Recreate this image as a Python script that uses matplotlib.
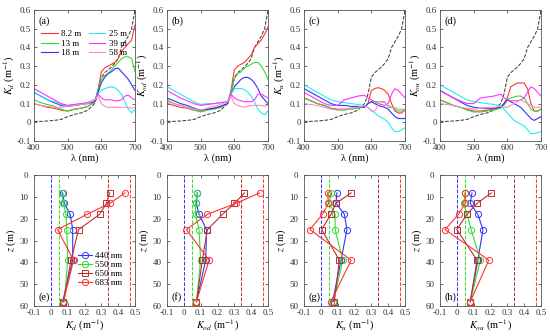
import matplotlib
matplotlib.use("Agg")
import matplotlib.pyplot as plt
from matplotlib.ticker import FuncFormatter, MultipleLocator

plt.rcParams['font.family'] = ['Liberation Serif', 'DejaVu Serif']
plt.rcParams['mathtext.fontset'] = 'stix'
plt.rcParams['axes.unicode_minus'] = False

wl = [400, 420, 440, 460, 480, 500, 520, 540, 560, 580, 590, 600, 610, 620, 630, 640, 650, 660, 670, 680, 690, 700]
aw = [0.005, 0.005, 0.007, 0.010, 0.015, 0.030, 0.042, 0.050, 0.065, 0.100, 0.150, 0.240, 0.265, 0.280, 0.295, 0.315, 0.340, 0.400, 0.430, 0.460, 0.500, 0.600]

depth_labels = ['8.2 m', '13 m', '18 m', '25 m', '39 m', '58 m']

Kd_spec = [
    [0.10, 0.09, 0.08, 0.075, 0.065, 0.06, 0.07, 0.075, 0.085, 0.11, 0.17, 0.27, 0.29, 0.30, 0.31, 0.32, 0.34, 0.38, 0.40, 0.42, 0.44, 0.52],
    [0.12, 0.105, 0.095, 0.085, 0.07, 0.06, 0.07, 0.075, 0.085, 0.11, 0.17, 0.23, 0.25, 0.26, 0.28, 0.30, 0.32, 0.34, 0.35, 0.35, 0.34, 0.27],
    [0.16, 0.14, 0.12, 0.105, 0.09, 0.085, 0.09, 0.095, 0.10, 0.11, 0.16, 0.21, 0.24, 0.26, 0.27, 0.285, 0.29, 0.27, 0.25, 0.23, 0.20, 0.17],
    [0.16, 0.14, 0.12, 0.11, 0.095, 0.09, 0.095, 0.10, 0.105, 0.12, 0.15, 0.17, 0.18, 0.185, 0.19, 0.185, 0.17, 0.15, 0.11, 0.07, 0.05, 0.07],
    [0.18, 0.16, 0.14, 0.12, 0.10, 0.09, 0.095, 0.10, 0.105, 0.12, 0.15, 0.13, 0.12, 0.12, 0.12, 0.115, 0.115, 0.12, 0.14, 0.145, 0.13, 0.12],
    [0.10, 0.09, 0.085, 0.08, 0.08, 0.085, 0.09, 0.095, 0.10, 0.12, 0.14, 0.10, 0.085, 0.08, 0.08, 0.08, 0.08, 0.08, 0.08, 0.08, 0.075, 0.08],
]
Kod_spec = [
    [0.10, 0.09, 0.08, 0.075, 0.065, 0.06, 0.07, 0.075, 0.085, 0.10, 0.17, 0.28, 0.30, 0.31, 0.32, 0.34, 0.36, 0.40, 0.42, 0.44, 0.47, 0.51],
    [0.12, 0.10, 0.09, 0.08, 0.065, 0.055, 0.065, 0.07, 0.08, 0.10, 0.16, 0.23, 0.26, 0.27, 0.29, 0.30, 0.31, 0.32, 0.32, 0.30, 0.27, 0.23],
    [0.13, 0.115, 0.10, 0.09, 0.075, 0.065, 0.07, 0.075, 0.085, 0.10, 0.15, 0.19, 0.21, 0.23, 0.24, 0.24, 0.23, 0.21, 0.18, 0.14, 0.12, 0.10],
    [0.19, 0.17, 0.15, 0.13, 0.11, 0.095, 0.10, 0.10, 0.105, 0.11, 0.15, 0.18, 0.18, 0.18, 0.175, 0.16, 0.14, 0.11, 0.07, 0.05, 0.04, 0.06],
    [0.17, 0.15, 0.13, 0.115, 0.10, 0.09, 0.095, 0.10, 0.105, 0.11, 0.15, 0.13, 0.12, 0.115, 0.11, 0.11, 0.11, 0.12, 0.15, 0.15, 0.14, 0.13],
    [0.11, 0.10, 0.09, 0.08, 0.07, 0.065, 0.075, 0.085, 0.095, 0.11, 0.14, 0.10, 0.09, 0.085, 0.08, 0.085, 0.09, 0.09, 0.09, 0.09, 0.085, 0.09],
]
Ku_spec = [
    [0.13, 0.115, 0.10, 0.09, 0.075, 0.07, 0.07, 0.075, 0.08, 0.08, 0.10, 0.17, 0.18, 0.185, 0.18, 0.17, 0.15, 0.10, 0.06, 0.05, 0.05, 0.07],
    [0.13, 0.115, 0.10, 0.09, 0.075, 0.065, 0.065, 0.07, 0.075, 0.085, 0.10, 0.11, 0.11, 0.11, 0.11, 0.105, 0.09, 0.08, 0.07, 0.06, 0.06, 0.06],
    [0.18, 0.16, 0.14, 0.12, 0.10, 0.09, 0.09, 0.085, 0.085, 0.08, 0.10, 0.11, 0.10, 0.09, 0.085, 0.08, 0.07, 0.05, 0.03, 0.02, 0.02, 0.02],
    [0.20, 0.18, 0.16, 0.14, 0.12, 0.11, 0.105, 0.10, 0.095, 0.09, 0.08, 0.065, 0.05, 0.035, 0.025, 0.015, 0.0, -0.03, -0.05, -0.05, -0.04, -0.03],
    [0.16, 0.14, 0.12, 0.10, 0.09, 0.09, 0.12, 0.13, 0.14, 0.145, 0.13, 0.12, 0.11, 0.10, 0.095, 0.09, 0.10, 0.15, 0.18, 0.17, 0.15, 0.13],
    [0.10, 0.095, 0.09, 0.08, 0.07, 0.065, 0.07, 0.075, 0.08, 0.09, 0.08, 0.06, 0.06, 0.09, 0.11, 0.11, 0.08, 0.08, 0.08, 0.07, 0.07, 0.07],
]
Kou_spec = [
    [0.12, 0.105, 0.09, 0.08, 0.07, 0.06, 0.06, 0.065, 0.07, 0.08, 0.10, 0.13, 0.19, 0.20, 0.21, 0.21, 0.21, 0.18, 0.10, 0.06, 0.06, 0.07],
    [0.12, 0.105, 0.09, 0.08, 0.065, 0.055, 0.055, 0.06, 0.065, 0.075, 0.09, 0.12, 0.13, 0.135, 0.14, 0.14, 0.13, 0.10, 0.07, 0.06, 0.06, 0.07],
    [0.17, 0.15, 0.13, 0.11, 0.09, 0.08, 0.075, 0.075, 0.075, 0.08, 0.10, 0.12, 0.11, 0.10, 0.09, 0.08, 0.06, 0.04, 0.02, 0.01, 0.02, 0.03],
    [0.20, 0.18, 0.16, 0.14, 0.12, 0.11, 0.105, 0.10, 0.095, 0.09, 0.07, 0.05, 0.03, 0.01, 0.0, -0.01, -0.02, -0.04, -0.06, -0.06, -0.055, -0.05],
    [0.17, 0.15, 0.13, 0.115, 0.10, 0.10, 0.13, 0.135, 0.14, 0.15, 0.13, 0.12, 0.115, 0.115, 0.115, 0.12, 0.13, 0.16, 0.19, 0.18, 0.16, 0.14],
    [0.10, 0.095, 0.09, 0.08, 0.075, 0.07, 0.075, 0.08, 0.08, 0.085, 0.08, 0.08, 0.09, 0.10, 0.11, 0.12, 0.11, 0.10, 0.09, 0.08, 0.08, 0.08],
]

depths = [8.2, 13, 18, 25, 39, 58]
band_labels = ['440 nm', '550 nm', '650 nm', '683 nm']
aw_bands = [0.0, 0.05, 0.34, 0.47]

Kd_prof = [
    [0.07, 0.08, 0.115, 0.13, 0.13, 0.07],
    [0.065, 0.075, 0.09, 0.095, 0.10, 0.08],
    [0.35, 0.33, 0.29, 0.165, 0.12, 0.075],
    [0.44, 0.35, 0.215, 0.04, 0.135, 0.075],
]
Kod_prof = [
    [0.08, 0.075, 0.09, 0.135, 0.13, 0.075],
    [0.08, 0.07, 0.07, 0.09, 0.10, 0.075],
    [0.36, 0.30, 0.23, 0.14, 0.11, 0.075],
    [0.45, 0.31, 0.14, 0.015, 0.15, 0.075],
]
Ku_prof = [
    [0.095, 0.09, 0.14, 0.155, 0.12, 0.07],
    [0.06, 0.05, 0.085, 0.085, 0.13, 0.075],
    [0.18, 0.09, 0.06, 0.005, 0.11, 0.08],
    [0.04, 0.045, 0.01, -0.065, 0.18, 0.06],
]
Kou_prof = [
    [0.09, 0.08, 0.125, 0.155, 0.125, 0.08],
    [0.05, 0.04, 0.06, 0.085, 0.14, 0.08],
    [0.205, 0.12, 0.06, 0.0, 0.12, 0.08],
    [0.05, 0.05, 0.01, -0.07, 0.19, 0.08],
]

spec_colors = ['#ff3333', '#33dd33', '#3333ff', '#22eeee', '#ff33ff', '#ff88cc']
band_colors = ['#3333ff', '#33dd33', '#b83030', '#ff3333']
band_markers = ['o', 'o', 's', 'o']

fs_tick = 6.5
fs_lab = 7.5
W, H = 550, 336
fig = plt.figure(figsize=(5.5, 3.36), dpi=100)

lefts = [34, 167, 304, 440]
aw_w = 101
top_rect = (10, 141)
bot_rect = (175, 306)

def fmt(v, p):
    return '%g' % round(v, 3)

def style(ax, ypad):
    ax.tick_params(direction='in', top=True, right=True, labelsize=fs_tick, length=2.5, width=0.5, colors='#333333')
    ax.tick_params(axis='x', pad=2)
    ax.tick_params(axis='y', pad=ypad)
    for s in ax.spines.values():
        s.set_linewidth(0.6)
        s.set_color('#555555')

spec_sets = [Kd_spec, Kod_spec, Ku_spec, Kou_spec]
prof_sets = [Kd_prof, Kod_prof, Ku_prof, Kou_prof]
subs = ['d', 'od', 'u', 'ou']
tl = ['(a)', '(b)', '(c)', '(d)']
bl = ['(e)', '(f)', '(g)', '(h)']

for i in range(4):
    x0 = lefts[i]
    ax = fig.add_axes([x0 / W, 1 - top_rect[1] / H, aw_w / W, (top_rect[1] - top_rect[0]) / H])
    ax.plot(wl, aw, '--', color='#333333', lw=0.7)
    for j, series in enumerate(spec_sets[i]):
        ax.plot(wl, series, color=spec_colors[j], lw=0.8, label=depth_labels[j])
    ax.set_xlim(400, 700)
    ax.set_ylim(-0.1, 0.6)
    ax.xaxis.set_major_locator(MultipleLocator(100))
    ax.yaxis.set_major_locator(MultipleLocator(0.1))
    ax.yaxis.set_major_formatter(FuncFormatter(fmt))
    style(ax, 2)
    ax.set_xlabel('λ (nm)', fontsize=fs_lab, labelpad=1)
    ax.set_ylabel(r'$K_{%s}$ (m$^{-1}$)' % subs[i], fontsize=fs_lab, labelpad=0)
    ax.text(0.04, 0.95, tl[i], transform=ax.transAxes, fontsize=fs_lab, va='top', ha='left')
    if i == 0:
        ax.legend(ncol=2, fontsize=fs_tick, frameon=False, loc='upper left',
                  bbox_to_anchor=(0.02, 0.89), handlelength=1.8, handletextpad=0.4,
                  columnspacing=0.8, labelspacing=0.15, borderpad=0.1)

    axb = fig.add_axes([x0 / W, 1 - bot_rect[1] / H, aw_w / W, (bot_rect[1] - bot_rect[0]) / H])
    for k in range(4):
        axb.axvline(aw_bands[k], color=band_colors[k], ls='--', lw=0.7)
    for k in range(4):
        axb.plot(prof_sets[i][k], depths, color=band_colors[k], marker=band_markers[k],
                 mfc='none', ms=4.5 if band_markers[k] == 'o' else 4, mew=0.7, lw=0.8, label=band_labels[k])
    axb.set_xlim(-0.1, 0.5)
    axb.set_ylim(60, 0)
    axb.xaxis.set_major_locator(MultipleLocator(0.1))
    axb.xaxis.set_major_formatter(FuncFormatter(fmt))
    axb.yaxis.set_major_locator(MultipleLocator(10))
    style(axb, 4)
    axb.set_xlabel(r'$K_{%s}$ (m$^{-1}$)' % subs[i], fontsize=fs_lab, labelpad=1)
    axb.set_ylabel(r'$z$ (m)', fontsize=fs_lab, labelpad=1)
    axb.text(0.04, 0.03, bl[i], transform=axb.transAxes, fontsize=fs_lab, va='bottom', ha='left')
    if i == 0:
        axb.legend(fontsize=fs_tick, frameon=False, loc='lower left',
                   bbox_to_anchor=(0.38, 0.1), handlelength=1.6, handletextpad=0.3,
                   labelspacing=0.1, borderpad=0.1)

fig.savefig('out.png', dpi=100)
